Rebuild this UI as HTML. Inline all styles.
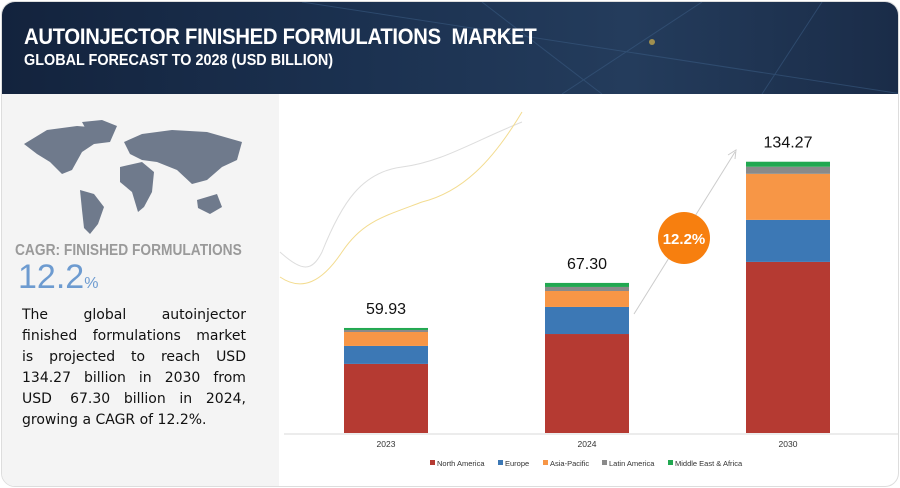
<!DOCTYPE html>
<html><head><meta charset="utf-8">
<style>
body{margin:0;width:900px;height:488px;background:#fff;overflow:hidden;font-family:"Liberation Sans",sans-serif}
#wrap{position:absolute;left:1px;top:1px;width:896px;height:484px;border:1px solid #ddd;border-radius:14px;overflow:hidden;background:#fff}
#hdr{position:absolute;left:0;top:0;width:896px;height:92px;background:linear-gradient(90deg,#13233d,#1b3150 40%,#243c5c 70%,#1a2c48)}
#t1{position:absolute;left:22px;top:22px;color:#fff;font-weight:bold;font-size:22px;letter-spacing:-0.3px;transform:scaleX(0.92);transform-origin:left}
#t2{position:absolute;left:22px;top:50px;color:#fff;font-weight:bold;font-size:16px;transform:scaleX(0.9);transform-origin:left}
#left{position:absolute;left:0;top:92px;width:277px;height:392px;background:#f4f4f4}
#cagr{position:absolute;left:13px;top:240px;color:#9a9a9a;font-size:16px;font-weight:bold;transform:scaleX(0.86);transform-origin:left}
#pct{position:absolute;left:16px;top:256px;color:#6d9bd0;font-size:34px}
#pct span{font-size:16px}
#desc{position:absolute;left:20px;top:303px;width:224px;font-family:"DejaVu Sans",sans-serif;font-size:14px;line-height:21px;color:#111}
#desc div{text-align:justify;text-align-last:justify;white-space:nowrap;display:flex;justify-content:space-between}
#desc div.last{justify-content:flex-start;gap:4px}
svg{position:absolute;left:0;top:0}
</style></head><body>
<div id="wrap">
<div id="hdr">
<svg width="896" height="92"><path d="M300 0 L900 92 M480 0 L600 92 M700 0 L560 92 M820 0 L760 92" stroke="#3a5a80" stroke-width="1" opacity="0.6"/><circle cx="650" cy="40" r="3" fill="#d6b34a" opacity="0.7"/></svg>
<div id="t1">AUTOINJECTOR FINISHED FORMULATIONS&nbsp; MARKET</div>
<div id="t2">GLOBAL FORECAST TO 2028 (USD BILLION)</div>
</div>
<div id="left"></div>
<svg width="896" height="484">
<g fill="#6f7a8c">
<path d="M22 142 L45 128 L75 124 L100 126 L95 140 L80 150 L70 168 L60 172 L48 160 L35 152 Z"/>
<path d="M80 120 L100 118 L115 124 L108 140 L92 142 Z"/>
<path d="M78 188 L92 192 L102 205 L96 222 L88 232 L82 226 L80 208 Z"/>
<path d="M122 140 L140 132 L170 128 L205 130 L240 140 L235 158 L220 165 L205 178 L190 182 L175 168 L155 160 L140 158 L128 152 Z"/>
<path d="M118 165 L140 160 L152 170 L150 190 L142 205 L136 210 L130 190 L118 180 Z"/>
<path d="M195 198 L215 192 L220 205 L208 212 L196 206 Z"/>
</g></svg>
<div id="cagr">CAGR: FINISHED FORMULATIONS</div>
<div id="pct">12.2<span>%</span></div>
<div id="desc">
<div><span>The</span><span>global</span><span>autoinjector</span></div>
<div><span>finished</span><span>formulations</span><span>market</span></div>
<div><span>is</span><span>projected</span><span>to</span><span>reach</span><span>USD</span></div>
<div><span>134.27</span><span>billion</span><span>in</span><span>2030</span><span>from</span></div>
<div><span>USD&nbsp;</span><span>67.30</span><span>billion</span><span>in</span><span>2024,</span></div>
<div class="last"><span>growing a CAGR of 12.2%.</span></div>
</div>
<svg id="chart" width="896" height="484"></svg>
</div>
<script>
const categories=["2023","2024","2030"];
const totals=["59.93","67.30","134.27"];
const northAmerica=[34.2,49.0,84.7];
const europe=[8.9,13.4,20.8];
const asiaPacific=[6.9,7.9,22.8];
const latinAmerica=[1.0,2.0,3.5];
const middleEast=[1.0,2.0,2.5];
const seriesNames=["North America","Europe","Asia-Pacific","Latin America","Middle East & Africa"];
const seriesColors=["#b53a32","#3c78b5","#f79646","#8a8a8a","#22a851"];
const series=[northAmerica,europe,asiaPacific,latinAmerica,middleEast];
const NS="http://www.w3.org/2000/svg";
const svg=document.getElementById('chart');
const base=431, scale=2.02;
function y(v){return base-v*scale;}
function xc(i){return 384+i*201;}
function mk(t,a){const e=document.createElementNS(NS,t);for(const k in a)e.setAttribute(k,a[k]);svg.appendChild(e);return e;}
let c1=mk('path',{d:"M278 250 C300 270 310 270 320 250 C340 200 360 170 400 165 C440 160 470 140 520 120",fill:"none",stroke:"#ddd"});

let c2=mk('path',{d:"M278 275 C300 290 320 280 340 250 C360 220 380 215 420 200 C460 190 490 160 520 110",fill:"none",stroke:"#f3dc90"});

let ax=mk('line',{x1:282,x2:896,y1:base+1,y2:base+1,stroke:"#e6e6e6","stroke-width":1.5});

categories.forEach((c,i)=>{
  let acc=0;
  series.forEach((s,k)=>{
    const r=mk('rect',{x:xc(i)-42,y:y(acc+s[i]),width:84,height:s[i]*scale,fill:seriesColors[k]});
    
    
    acc+=s[i];
  });
  const t=mk('text',{x:xc(i),y:y(acc)-14,"text-anchor":"middle","font-size":16,fill:"#111"});
  t.textContent=totals[i];
  
  
  const l=mk('text',{x:xc(i),y:base+14,"text-anchor":"middle","font-size":8.5,fill:"#333"});
  l.textContent=c;
  
  
});
const ar=mk('path',{d:"M632 312 L733 150 M726 153 L734 148 L733 157",fill:"none",stroke:"#ccc","stroke-width":1});

const ci=mk('circle',{cx:682,cy:236,r:26,fill:"#f77f0f"});

const ct=mk('text',{x:682,y:242,"text-anchor":"middle","font-size":15,"font-weight":"bold",fill:"#fff"});
ct.textContent="12.2%";

const lx=[428,496,541,600,666];
seriesNames.forEach((n,k)=>{
  const g=document.createElementNS(NS,'g');svg.appendChild(g);
  
  
  const r=document.createElementNS(NS,'rect');
  r.setAttribute('x',lx[k]);r.setAttribute('y',458);r.setAttribute('width',5);r.setAttribute('height',5);r.setAttribute('fill',seriesColors[k]);
  g.appendChild(r);
  const t=document.createElementNS(NS,'text');
  t.setAttribute('x',lx[k]+7);t.setAttribute('y',464);t.setAttribute('font-size',7.5);t.setAttribute('fill','#333');
  t.textContent=n;g.appendChild(t);
});
</script>
</body></html>
